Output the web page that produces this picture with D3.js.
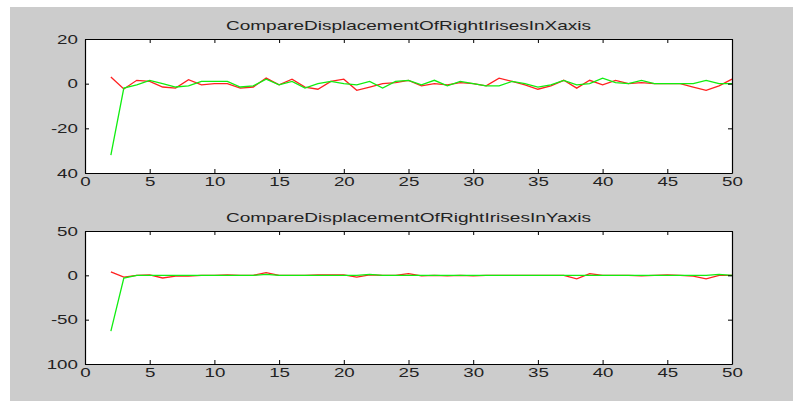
<!DOCTYPE html>
<html>
<head>
<meta charset="utf-8">
<script src="https://cdn.jsdelivr.net/npm/d3@7"></script>
<style>
  body { margin: 0; background: #fff; }
  text { font-family: "Liberation Sans", Arial, sans-serif; fill: #222; }
</style>
</head>
<body>
<div id="svg"></div>
<script>
// frame numbers along the x axis
var frames = [2, 3, 4, 5, 6, 7, 8, 9, 10, 11, 12, 13, 14, 15, 16, 17, 18, 19, 20,
    21, 22, 23, 24, 25, 26, 27, 28, 29, 30, 31, 32, 33, 34, 35, 36, 37, 38, 39, 40,
    41, 42, 43, 44, 45, 46, 47, 48, 49, 50];

// displacement in x (top panel)
var xRed = [3, -2.4, 1.5, 1, -1.5, -2, 1.8, -0.5, 0, 0, -2, -1.5, 2.5, -0.5, 2, -1.5, -2.5, 1, 2,
    -3, -1.5, 0, 0.5, 1.5, -1, 0, -0.5, 0.5, 0, -1, 2.5, 1, -0.5, -2.5, -1, 1.5, -2, 1.5, -0.5,
    1.5, 0, 0.5, 0, 0, 0, -1.5, -3, -1, 2];
var xGreen = [-32, -2, -0.5, 1.5, 0, -1.5, -1, 1, 1, 1, -1.5, -1, 2, -0.5, 1, -2, 0, 1, 0,
    -0.5, 1, -2, 1, 1.5, -0.5, 1.5, -1, 1, 0, -1, -1, 1, 0, -1.5, -0.5, 1.5, -0.5, 0, 2.5,
    0.5, 0, 1.5, 0, 0, 0, 0, 1.5, 0, 0];

// displacement in y (bottom panel)
var yRed = [4, -2, 0, 0.5, -3, -1, -1, 0, 0, 0.5, 0, 0, 3, 0, 0, 0, 0.5, 0.5, 0.5,
    -2, 0.5, 0, 0, 2, -0.5, 0, -0.5, 0, -0.5, 0, 0, 0, 0, 0, 0, 0, -4, 2, 0,
    0, 0, -0.5, 0, 0.5, 0, -1, -4, 0, 0];
var yGreen = [-63, -3, 0, 0, 0, 0, 0, 0, 0, 0, 0, 0, 1, 0, 0, 0, 0, 0, 0,
    0, 1, 0, 0, 0, 0, 0, 0, 0, 0, 0, 0, 0, 0, 0, 0, 0, 0, 0, 0,
    0, 0, 0, 0, 0, 0, 0, 0, 1, 0];

var xTicks = [0, 5, 10, 15, 20, 25, 30, 35, 40, 45, 50];
var topYTicks = [-40, -20, 0, 20];
var topYLabels = ["40", "-20", "0", "20"];
var botYTicks = [-100, -50, 0, 50];
var botYLabels = ["100", "-50", "0", "50"];

const width = 793;
const height = 403;

let svg = d3.select('#svg')
    .append('svg')
    .attr('width', width)
    .attr('height', height);

// figure background
svg.append('rect')
    .attr('x', 10).attr('y', 7)
    .attr('width', width - 10).attr('height', height - 9)
    .attr('fill', '#cccccc');

const left = 85, right = 732;
const xScale = d3.scaleLinear().domain([0, 50]).range([left, right]);

function drawPanel(top, bottom, title, domain, yTicks, yLabels, red, green) {
    const yScale = d3.scaleLinear().domain(domain).range([bottom, top]);
    let g = svg.append('g');

    g.append('rect')
        .attr('x', left).attr('y', top)
        .attr('width', right - left).attr('height', bottom - top)
        .attr('fill', '#fff');

    // title
    g.append('text')
        .attr('x', (left + right) / 2)
        .attr('y', top - 9)
        .attr('text-anchor', 'middle')
        .attr('font-size', 13)
        .attr('fill', '#333')
        .attr('textLength', 365)
        .attr('lengthAdjust', 'spacingAndGlyphs')
        .text(title);

    // data lines
    let line = d3.line()
        .x((d, i) => xScale(frames[i]))
        .y(d => yScale(d));

    g.append('path')
        .datum(red)
        .attr('d', line)
        .attr('fill', 'none')
        .attr('stroke', '#ff2020')
        .attr('stroke-width', 1.3);

    g.append('path')
        .datum(green)
        .attr('d', line)
        .attr('fill', 'none')
        .attr('stroke', '#10ee10')
        .attr('stroke-width', 1.3);

    // axes (ticks pointing inside, like a matlab box)
    let xb = g.append('g')
        .attr('transform', `translate(0, ${bottom})`)
        .call(d3.axisBottom(xScale).tickValues(xTicks).tickSizeInner(-4).tickSizeOuter(0).tickPadding(6));
    let xt = g.append('g')
        .attr('transform', `translate(0, ${top})`)
        .call(d3.axisTop(xScale).tickValues(xTicks).tickSizeInner(-4).tickSizeOuter(0).tickFormat(''));
    let yl = g.append('g')
        .attr('transform', `translate(${left}, 0)`)
        .call(d3.axisLeft(yScale).tickValues(yTicks).tickSizeInner(-4).tickSizeOuter(0)
            .tickFormat((d, i) => yLabels[i]));
    let yr = g.append('g')
        .attr('transform', `translate(${right}, 0)`)
        .call(d3.axisRight(yScale).tickValues(yTicks).tickSizeInner(-4).tickSizeOuter(0).tickFormat(''));

    [xb, xt, yl, yr].forEach(a => {
        a.select('.domain').attr('stroke', '#000').attr('stroke-width', 1.2);
        a.selectAll('line').attr('stroke', '#000');
    });

    // labels look stretched sideways in the original
    xb.selectAll('text')
        .attr('font-size', 12.5)
        .attr('font-family', '"Liberation Sans", Arial, sans-serif')
        .attr('fill', '#222')
        .attr('dy', '0.6em')
        .attr('transform', 'scale(1.5,1)');

    yl.selectAll('text')
        .attr('font-size', 12.5)
        .attr('font-family', '"Liberation Sans", Arial, sans-serif')
        .attr('fill', '#222')
        .attr('x', -4.7)
        .attr('transform', 'scale(1.5,1)');
}

drawPanel(39, 173, 'CompareDisplacementOfRightIrisesInXaxis', [-40, 20], topYTicks, topYLabels, xRed, xGreen);
drawPanel(231, 364, 'CompareDisplacementOfRightIrisesInYaxis', [-100, 50], botYTicks, botYLabels, yRed, yGreen);
</script>
</body>
</html>
